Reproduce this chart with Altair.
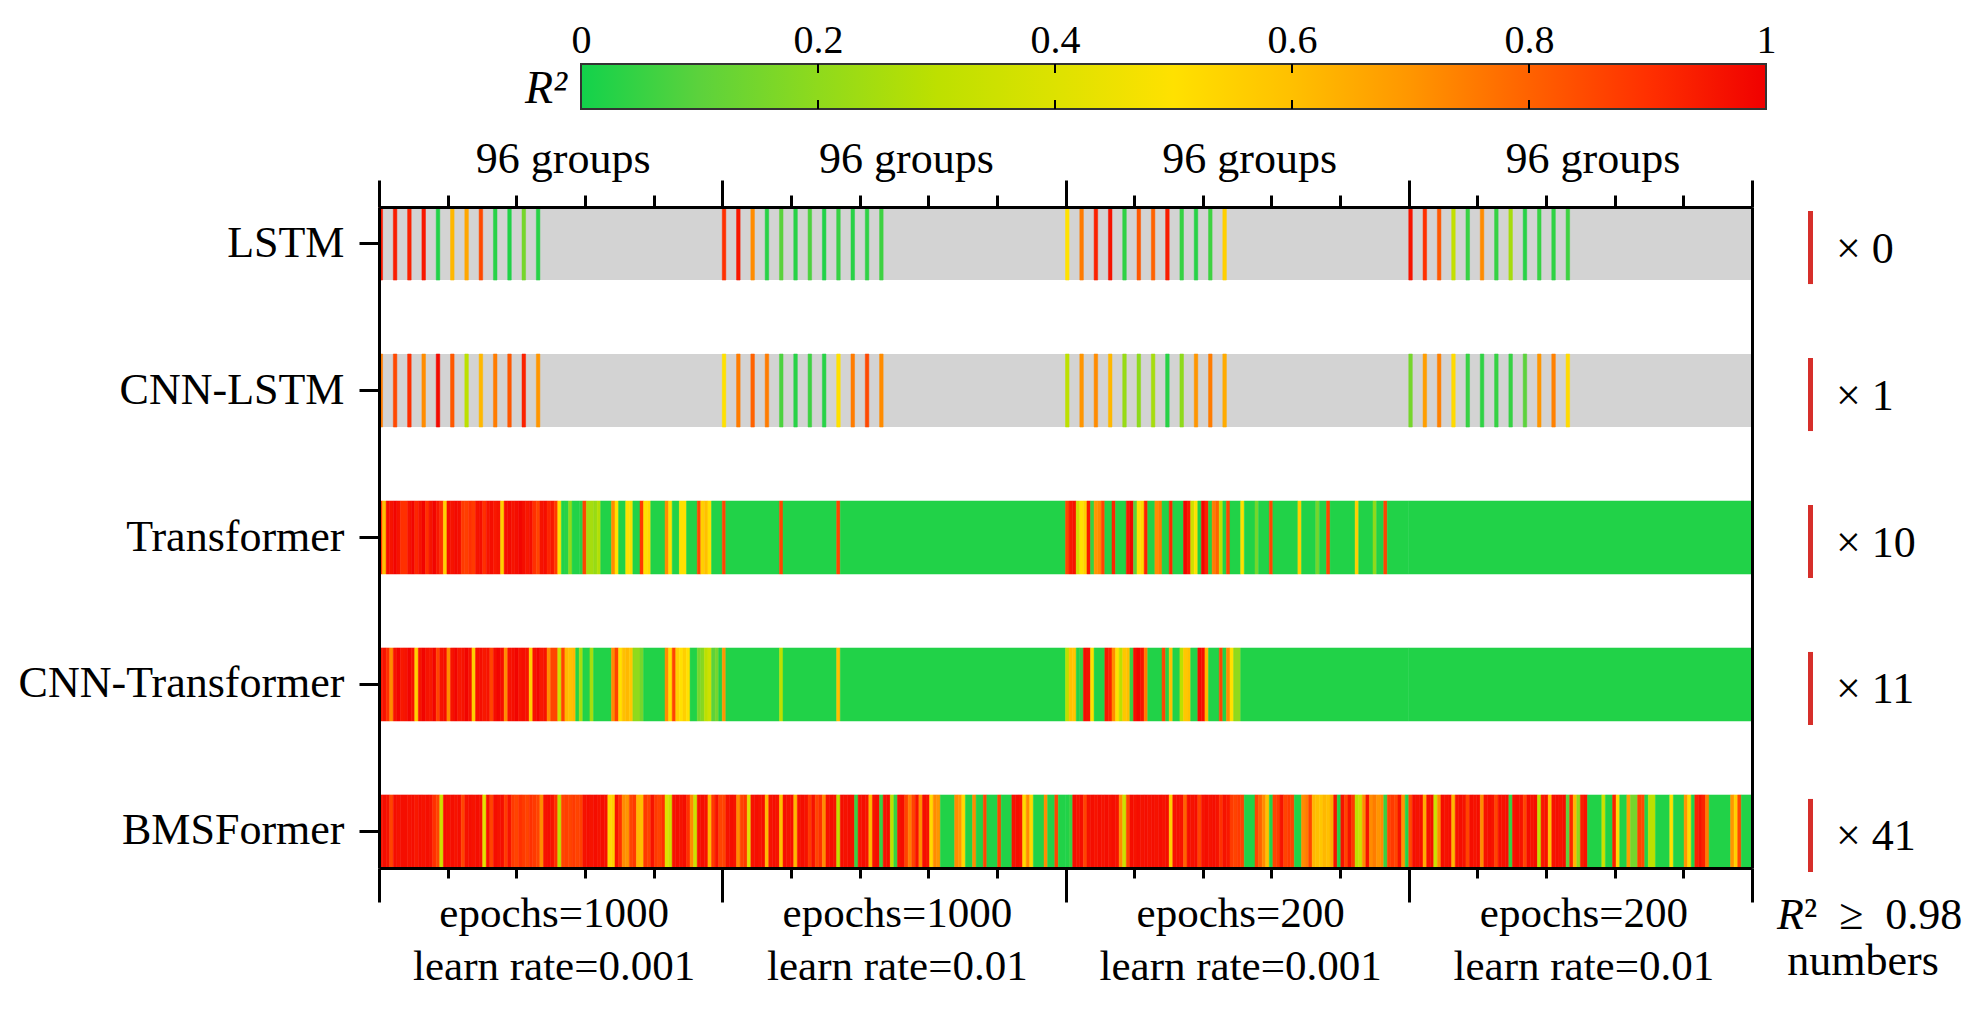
import json
import altair as alt
import pandas as pd

# ---------------- data ----------------
MODELS = ["LSTM", "CNN-LSTM", "Transformer", "CNN-Transformer", "BMSFormer"]
GROUPS_PER_SECTION = 96
SPARSE_GROUPS = [0, 4, 8, 12, 16, 20, 24, 28, 32, 36, 40, 44]

LSTM_1 = [0.95, 0.94, 0.93, 0.95, 0.02, 0.62, 0.66, 0.85, 0.03, 0.02, 0.15, 0.03]
LSTM_2 = [0.90, 0.95, 0.72, 0.03, 0.10, 0.03, 0.08, 0.02, 0.05, 0.03, 0.04, 0.06]
LSTM_3 = [0.50, 0.75, 0.93, 0.96, 0.04, 0.82, 0.80, 0.94, 0.05, 0.03, 0.06, 0.55]
LSTM_4 = [0.96, 0.90, 0.82, 0.32, 0.05, 0.72, 0.05, 0.25, 0.03, 0.05, 0.04, 0.06]

CNNLSTM_1 = [0.75, 0.85, 0.90, 0.72, 0.98, 0.82, 0.30, 0.62, 0.75, 0.82, 0.93, 0.70]
CNNLSTM_2 = [0.50, 0.75, 0.80, 0.75, 0.08, 0.03, 0.06, 0.03, 0.50, 0.75, 0.85, 0.72]
CNNLSTM_3 = [0.30, 0.70, 0.72, 0.62, 0.22, 0.20, 0.25, 0.03, 0.20, 0.70, 0.75, 0.65]
CNNLSTM_4 = [0.15, 0.68, 0.74, 0.52, 0.05, 0.04, 0.05, 0.05, 0.10, 0.70, 0.74, 0.52]

TRANS_1 = [0.88, 0.6, 0.97, 0.96, 0.99, 0.96, 0.9, 0.9, 0.96, 0.99, 0.92, 0.96, 0.99, 0.9, 0.96, 0.99,
           0.95, 0.9, 0.55, 0.97, 0.96, 0.98, 0.97, 0.88, 0.87, 0.9, 0.88, 0.96, 0.97, 0.9, 0.96, 0.97,
           0.95, 0.96, 0.55, 0.97, 0.98, 0.96, 0.97, 0.99, 0.97, 0.95, 0.97, 0.9, 0.86, 0.96, 0.97, 0.92,
           0.95, 0.88, 0.5, 0.02, 0.03, 0.2, 0.02, 0.02, 0.03, 0.86, 0.25, 0.25, 0.22, 0.28, 0.02, 0.02,
           0.02, 0.72, 0.5, 0.02, 0.02, 0.5, 0.48, 0.02, 0.02, 0.88, 0.5, 0.52, 0.02, 0.02, 0.02, 0.02,
           0.72, 0.5, 0.02, 0.02, 0.5, 0.5, 0.02, 0.02, 0.02, 0.86, 0.55, 0.6, 0.5, 0.02, 0.02, 0.02]
TRANS_2 = [0.86, 0.02, 0.02, 0.02, 0.02, 0.02, 0.02, 0.02, 0.02, 0.02, 0.02, 0.02, 0.02, 0.02, 0.02, 0.02,
           0.86, 0.02, 0.02, 0.02, 0.02, 0.02, 0.02, 0.02, 0.02, 0.02, 0.02, 0.02, 0.02, 0.02, 0.02, 0.02,
           0.86, 0.02, 0.02, 0.02, 0.02, 0.02, 0.02, 0.02, 0.02, 0.02, 0.02, 0.02, 0.02, 0.02, 0.02, 0.02,
           0.02, 0.02, 0.02, 0.02, 0.02, 0.02, 0.02, 0.02, 0.02, 0.02, 0.02, 0.02, 0.02, 0.02, 0.02, 0.02,
           0.02, 0.02, 0.02, 0.02, 0.02, 0.02, 0.02, 0.02, 0.02, 0.02, 0.02, 0.02, 0.02, 0.02, 0.02, 0.02,
           0.02, 0.02, 0.02, 0.02, 0.02, 0.02, 0.02, 0.02, 0.02, 0.02, 0.02, 0.02, 0.02, 0.02, 0.02, 0.02]
TRANS_3 = [0.86, 0.95, 0.96, 0.35, 0.5, 0.55, 0.95, 0.05, 0.7, 0.72, 0.86, 0.02, 0.02, 0.92, 0.02, 0.02,
           0.02, 0.95, 0.99, 0.1, 0.5, 0.52, 0.93, 0.02, 0.02, 0.72, 0.75, 0.02, 0.02, 0.92, 0.02, 0.02,
           0.02, 0.99, 0.95, 0.35, 0.5, 0.02, 0.99, 0.93, 0.02, 0.75, 0.8, 0.3, 0.02, 0.86, 0.02, 0.02,
           0.02, 0.5, 0.02, 0.02, 0.02, 0.15, 0.02, 0.02, 0.02, 0.86, 0.02, 0.02, 0.02, 0.02, 0.02, 0.02,
           0.02, 0.55, 0.02, 0.02, 0.02, 0.02, 0.15, 0.02, 0.02, 0.86, 0.02, 0.02, 0.02, 0.02, 0.02, 0.02,
           0.02, 0.55, 0.02, 0.02, 0.02, 0.02, 0.2, 0.02, 0.02, 0.86, 0.02, 0.02, 0.02, 0.02, 0.02, 0.02]
TRANS_4 = [0.02, 0.02, 0.02, 0.02, 0.02, 0.02, 0.02, 0.02, 0.02, 0.02, 0.02, 0.02, 0.02, 0.02, 0.02, 0.02,
           0.02, 0.02, 0.02, 0.02, 0.02, 0.02, 0.02, 0.02, 0.02, 0.02, 0.02, 0.02, 0.02, 0.02, 0.02, 0.02,
           0.02, 0.02, 0.02, 0.02, 0.02, 0.02, 0.02, 0.02, 0.02, 0.02, 0.02, 0.02, 0.02, 0.02, 0.02, 0.02,
           0.02, 0.02, 0.02, 0.02, 0.02, 0.02, 0.02, 0.02, 0.02, 0.02, 0.02, 0.02, 0.02, 0.02, 0.02, 0.02,
           0.02, 0.02, 0.02, 0.02, 0.02, 0.02, 0.02, 0.02, 0.02, 0.02, 0.02, 0.02, 0.02, 0.02, 0.02, 0.02,
           0.02, 0.02, 0.02, 0.02, 0.02, 0.02, 0.02, 0.02, 0.02, 0.02, 0.02, 0.02, 0.02, 0.02, 0.02, 0.02]

CNNTRANS_1 = [0.95, 0.96, 0.9, 0.72, 0.96, 0.99, 0.95, 0.96, 0.99, 0.96, 0.55, 0.96, 0.99, 0.96, 0.95, 0.99,
              0.86, 0.96, 0.97, 0.72, 0.96, 0.99, 0.95, 0.96, 0.99, 0.96, 0.55, 0.96, 0.97, 0.95, 0.96, 0.86,
              0.97, 0.99, 0.97, 0.72, 0.96, 0.97, 0.99, 0.96, 0.97, 0.96, 0.55, 0.96, 0.99, 0.95, 0.96, 0.72,
              0.86, 0.86, 0.35, 0.86, 0.62, 0.6, 0.62, 0.02, 0.25, 0.02, 0.02, 0.25, 0.02, 0.02, 0.02, 0.02,
              0.02, 0.72, 0.86, 0.5, 0.6, 0.62, 0.58, 0.2, 0.2, 0.15, 0.02, 0.02, 0.02, 0.02, 0.02, 0.02,
              0.72, 0.5, 0.86, 0.55, 0.5, 0.55, 0.5, 0.02, 0.02, 0.15, 0.18, 0.3, 0.35, 0.1, 0.15, 0.02]
CNNTRANS_2 = [0.7, 0.02, 0.02, 0.02, 0.02, 0.02, 0.02, 0.02, 0.02, 0.02, 0.02, 0.02, 0.02, 0.02, 0.02, 0.02,
              0.3, 0.02, 0.02, 0.02, 0.02, 0.02, 0.02, 0.02, 0.02, 0.02, 0.02, 0.02, 0.02, 0.02, 0.02, 0.02,
              0.6, 0.02, 0.02, 0.02, 0.02, 0.02, 0.02, 0.02, 0.02, 0.02, 0.02, 0.02, 0.02, 0.02, 0.02, 0.02,
              0.02, 0.02, 0.02, 0.02, 0.02, 0.02, 0.02, 0.02, 0.02, 0.02, 0.02, 0.02, 0.02, 0.02, 0.02, 0.02,
              0.02, 0.02, 0.02, 0.02, 0.02, 0.02, 0.02, 0.02, 0.02, 0.02, 0.02, 0.02, 0.02, 0.02, 0.02, 0.02,
              0.02, 0.02, 0.02, 0.02, 0.02, 0.02, 0.02, 0.02, 0.02, 0.02, 0.02, 0.02, 0.02, 0.02, 0.02, 0.02]
CNNTRANS_3 = [0.3, 0.6, 0.58, 0.02, 0.05, 0.97, 0.96, 0.5, 0.02, 0.02, 0.02, 0.95, 0.93, 0.72, 0.5, 0.3,
              0.58, 0.6, 0.05, 0.97, 0.99, 0.96, 0.75, 0.02, 0.02, 0.02, 0.02, 0.86, 0.02, 0.6, 0.02, 0.02,
              0.3, 0.58, 0.6, 0.02, 0.02, 0.98, 0.97, 0.62, 0.02, 0.02, 0.02, 0.86, 0.02, 0.72, 0.5, 0.2,
              0.2, 0.02, 0.02, 0.02, 0.02, 0.02, 0.02, 0.02, 0.02, 0.02, 0.02, 0.02, 0.02, 0.02, 0.02, 0.02,
              0.02, 0.02, 0.02, 0.02, 0.02, 0.02, 0.02, 0.02, 0.02, 0.02, 0.02, 0.02, 0.02, 0.02, 0.02, 0.02,
              0.02, 0.02, 0.02, 0.02, 0.02, 0.02, 0.02, 0.02, 0.02, 0.02, 0.02, 0.02, 0.02, 0.02, 0.02, 0.02]
CNNTRANS_4 = [0.02, 0.02, 0.02, 0.02, 0.02, 0.02, 0.02, 0.02, 0.02, 0.02, 0.02, 0.02, 0.02, 0.02, 0.02, 0.02,
              0.02, 0.02, 0.02, 0.02, 0.02, 0.02, 0.02, 0.02, 0.02, 0.02, 0.02, 0.02, 0.02, 0.02, 0.02, 0.02,
              0.02, 0.02, 0.02, 0.02, 0.02, 0.02, 0.02, 0.02, 0.02, 0.02, 0.02, 0.02, 0.02, 0.02, 0.02, 0.02,
              0.02, 0.02, 0.02, 0.02, 0.02, 0.02, 0.02, 0.02, 0.02, 0.02, 0.02, 0.02, 0.02, 0.02, 0.02, 0.02,
              0.02, 0.02, 0.02, 0.02, 0.02, 0.02, 0.02, 0.02, 0.02, 0.02, 0.02, 0.02, 0.02, 0.02, 0.02, 0.02,
              0.02, 0.02, 0.02, 0.02, 0.02, 0.02, 0.02, 0.02, 0.02, 0.02, 0.02, 0.02, 0.02, 0.02, 0.02, 0.02]

BMS_1 = [0.96, 0.97, 0.96, 0.86, 0.97, 0.96, 0.97, 0.97, 0.96, 0.97, 0.95, 0.97, 0.96, 0.97, 0.96, 0.9,
         0.86, 0.35, 0.97, 0.96, 0.97, 0.96, 0.97, 0.86, 0.96, 0.97, 0.96, 0.97, 0.96, 0.42, 0.96, 0.86,
         0.97, 0.96, 0.97, 0.88, 0.96, 0.88, 0.86, 0.9, 0.88, 0.86, 0.9, 0.88, 0.86, 0.72, 0.96, 0.97,
         0.96, 0.9, 0.3, 0.86, 0.87, 0.86, 0.88, 0.86, 0.87, 0.96, 0.97, 0.96, 0.97, 0.96, 0.97, 0.96,
         0.52, 0.55, 0.96, 0.9, 0.72, 0.7, 0.86, 0.88, 0.62, 0.6, 0.88, 0.86, 0.96, 0.88, 0.86, 0.9,
         0.4, 0.35, 0.96, 0.97, 0.96, 0.97, 0.9, 0.72, 0.35, 0.96, 0.97, 0.96, 0.62, 0.88, 0.96, 0.86]
BMS_2 = [0.86, 0.96, 0.97, 0.96, 0.72, 0.86, 0.88, 0.4, 0.96, 0.97, 0.96, 0.97, 0.62, 0.96, 0.97, 0.96,
         0.6, 0.97, 0.96, 0.97, 0.62, 0.96, 0.97, 0.96, 0.88, 0.96, 0.86, 0.9, 0.72, 0.96, 0.97, 0.96,
         0.3, 0.97, 0.96, 0.97, 0.96, 0.05, 0.96, 0.97, 0.96, 0.62, 0.96, 0.97, 0.05, 0.96, 0.97, 0.3,
         0.05, 0.96, 0.97, 0.86, 0.75, 0.86, 0.96, 0.72, 0.97, 0.96, 0.52, 0.72, 0.7, 0.02, 0.02, 0.02,
         0.02, 0.72, 0.7, 0.52, 0.02, 0.02, 0.72, 0.02, 0.02, 0.86, 0.02, 0.02, 0.02, 0.86, 0.02, 0.02,
         0.02, 0.96, 0.97, 0.96, 0.52, 0.72, 0.52, 0.02, 0.02, 0.02, 0.72, 0.02, 0.02, 0.86, 0.02, 0.02]
BMS_3 = [0.02, 0.05, 0.97, 0.96, 0.97, 0.86, 0.96, 0.97, 0.96, 0.97, 0.96, 0.97, 0.96, 0.97, 0.96, 0.72,
         0.35, 0.86, 0.97, 0.96, 0.97, 0.96, 0.97, 0.96, 0.97, 0.96, 0.97, 0.96, 0.97, 0.55, 0.96, 0.97,
         0.96, 0.8, 0.97, 0.96, 0.97, 0.86, 0.96, 0.97, 0.96, 0.97, 0.96, 0.9, 0.96, 0.95, 0.88, 0.86,
         0.88, 0.86, 0.02, 0.02, 0.02, 0.86, 0.8, 0.72, 0.6, 0.02, 0.86, 0.88, 0.96, 0.86, 0.88, 0.86,
         0.02, 0.02, 0.72, 0.75, 0.86, 0.62, 0.6, 0.58, 0.62, 0.6, 0.65, 0.96, 0.02, 0.96, 0.86, 0.96,
         0.88, 0.3, 0.35, 0.72, 0.96, 0.72, 0.75, 0.7, 0.72, 0.05, 0.86, 0.88, 0.86, 0.96, 0.7, 0.02]
BMS_4 = [0.85, 0.97, 0.96, 0.97, 0.65, 0.96, 0.97, 0.35, 0.72, 0.97, 0.96, 0.97, 0.62, 0.96, 0.97, 0.96,
         0.86, 0.97, 0.96, 0.97, 0.72, 0.96, 0.97, 0.96, 0.86, 0.97, 0.96, 0.97, 0.05, 0.96, 0.97, 0.96,
         0.86, 0.97, 0.96, 0.97, 0.3, 0.95, 0.96, 0.6, 0.96, 0.97, 0.96, 0.97, 0.1, 0.92, 0.62, 0.2,
         0.94, 0.96, 0.02, 0.02, 0.02, 0.02, 0.35, 0.02, 0.02, 0.93, 0.52, 0.02, 0.02, 0.68, 0.15, 0.15,
         0.86, 0.85, 0.02, 0.3, 0.3, 0.02, 0.02, 0.02, 0.02, 0.5, 0.02, 0.02, 0.02, 0.7, 0.52, 0.02,
         0.93, 0.96, 0.93, 0.75, 0.02, 0.02, 0.02, 0.02, 0.02, 0.02, 0.7, 0.55, 0.85, 0.02, 0.02, 0.02]

SPARSE = {"LSTM": [LSTM_1, LSTM_2, LSTM_3, LSTM_4],
          "CNN-LSTM": [CNNLSTM_1, CNNLSTM_2, CNNLSTM_3, CNNLSTM_4]}
DENSE = {"Transformer": [TRANS_1, TRANS_2, TRANS_3, TRANS_4],
         "CNN-Transformer": [CNNTRANS_1, CNNTRANS_2, CNNTRANS_3, CNNTRANS_4],
         "BMSFormer": [BMS_1, BMS_2, BMS_3, BMS_4]}

COUNT_LABELS = ["× 0", "× 1", "× 10", "× 11", "× 41"]
TOP_LABELS = ["96 groups", "96 groups", "96 groups", "96 groups"]
EPOCH_LABELS = ["epochs=1000", "epochs=1000", "epochs=200", "epochs=200"]
LR_LABELS = ["learn rate=0.001", "learn rate=0.01", "learn rate=0.001", "learn rate=0.01"]
R2_TITLE = ["R", "²\u2002≥\u20020.98"]
NUMBERS_TITLE = "numbers"

MAJOR_TICKS = [0, 96, 192, 288, 384]
MINOR_TICKS = [19.2, 38.4, 57.6, 76.8, 115.2, 134.4, 153.6, 172.8,
               211.2, 230.4, 249.6, 268.8, 307.2, 326.4, 345.6, 364.8]
LABEL_POS = [48, 144, 240, 336]

CB_TICKS = [0, 0.2, 0.4, 0.6, 0.8, 1]
CB_INNER_TICKS = [0.2, 0.4, 0.6, 0.8]
STOPS = [0.0, 0.1, 0.2, 0.3, 0.4, 0.5, 0.6, 0.7, 0.8, 0.9, 1.0]
COLORS = ["#12d24b", "#5cd23c", "#8fda1c", "#bde000", "#dde200", "#ffe100",
          "#ffc000", "#ff9600", "#ff6200", "#ff3000", "#f00000"]

# ---------------- tables ----------------
rec = []
for m, secs in SPARSE.items():
    for s, vals in enumerate(secs):
        assert len(vals) == len(SPARSE_GROUPS)
        for gi, v in zip(SPARSE_GROUPS, vals):
            g = s * GROUPS_PER_SECTION + gi
            rec.append({"model": m, "g": g, "g2": g + 1, "r2": v})
for m, secs in DENSE.items():
    for s, vals in enumerate(secs):
        assert len(vals) == GROUPS_PER_SECTION, (m, s, len(vals))
        # consecutive groups with the same value are drawn as one cell (no seams)
        start = 0
        for gi in range(1, GROUPS_PER_SECTION + 1):
            if gi == GROUPS_PER_SECTION or vals[gi] != vals[start]:
                rec.append({"model": m, "g": s * GROUPS_PER_SECTION + start,
                            "g2": s * GROUPS_PER_SECTION + gi, "r2": vals[start]})
                start = gi
cells_df = pd.DataFrame(rec)
bg_df = pd.DataFrame({"model": list(SPARSE.keys()), "a": [0, 0], "b": [384, 384]})
tick_df = pd.DataFrame({"v": MAJOR_TICKS})
cnt_df = pd.DataFrame({"model": MODELS, "label": COUNT_LABELS})

FONT = "Liberation Serif"
W, H = 1373, 661           # plot area
CB_TOP, CB_H = -143, 45    # colour bar placed above the plot area
RX = W                     # right annotation column starts at plot's right edge

xs = alt.Scale(domain=[0, 384], nice=False, zero=False)
ys = alt.Scale(domain=MODELS, paddingInner=0.503, paddingOuter=0)
cs = alt.Scale(domain=STOPS, range=COLORS, interpolate="rgb", clamp=True)
cbx = alt.Scale(domain=[0, 1], range=[202, 1387], nice=False, zero=False)


def ax(**kw):
    base = dict(title=None, grid=False, labels=False, ticks=False, domain=False,
                zindex=1, tickColor="black", domainColor="black", labelColor="black",
                labelFont=FONT, labelLimit=2000)
    base.update(kw)
    return alt.Axis(**base)


bg = alt.Chart(bg_df).mark_rect(color="#d3d3d3").encode(
    x=alt.X("a:Q", scale=xs, axis=ax(orient="bottom", values=MAJOR_TICKS, ticks=True,
                                     tickSize=34, tickWidth=3, domain=True, domainWidth=3)),
    x2="b:Q",
    y=alt.Y("model:N", scale=ys, axis=None),
)

cells = alt.Chart(cells_df).mark_rect(strokeWidth=0.5).encode(
    x=alt.X("g:Q", scale=xs, axis=ax(orient="top", values=MAJOR_TICKS, ticks=True,
                                     tickSize=27, tickWidth=3, domain=True, domainWidth=3)),
    x2="g2:Q",
    y=alt.Y("model:N", scale=ys,
            axis=ax(orient="left", labels=True, ticks=True, tickSize=20, tickWidth=3,
                    labelFontSize=44, labelPadding=15, domain=True, domainWidth=3)),
    color=alt.Color("r2:Q", scale=cs, legend=None),
    stroke=alt.Stroke("r2:Q", scale=cs, legend=None),
)

minor_b = alt.Chart(tick_df).mark_point(opacity=0).encode(
    x=alt.X("v:Q", scale=xs, axis=ax(orient="bottom", values=MINOR_TICKS, ticks=True,
                                     tickSize=10, tickWidth=3)))
minor_t = alt.Chart(tick_df).mark_point(opacity=0).encode(
    x=alt.X("v:Q", scale=xs, axis=ax(orient="top", values=MINOR_TICKS, ticks=True,
                                     tickSize=12, tickWidth=3)))

bottom_expr = json.dumps([[e, l] for e, l in zip(EPOCH_LABELS, LR_LABELS)]) + "[floor(datum.value / 96)]"
top_expr = json.dumps(TOP_LABELS) + "[floor(datum.value / 96)]"

lab_b = alt.Chart(tick_df).mark_point(opacity=0).encode(
    x=alt.X("v:Q", scale=xs, axis=ax(orient="bottom", values=LABEL_POS, labels=True,
                                     labelExpr=bottom_expr, labelFontSize=43,
                                     labelLineHeight=53, labelBaseline="alphabetic",
                                     labelPadding=58, labelOffset=3, labelFlush=False,
                                     labelOverlap=False)))
lab_t = alt.Chart(tick_df).mark_point(opacity=0).encode(
    x=alt.X("v:Q", scale=xs, axis=ax(orient="top", values=LABEL_POS, labels=True,
                                     labelExpr=top_expr, labelFontSize=44,
                                     labelBaseline="alphabetic", labelPadding=35,
                                     labelOffset=12, labelFlush=False, labelOverlap=False)))
frame_r = alt.Chart(cnt_df).mark_point(opacity=0).encode(
    y=alt.Y("model:N", scale=ys, axis=ax(orient="right", domain=True, domainWidth=3)))

# ---------------- colour bar (above the plot) ----------------
grad = alt.Gradient(gradient="linear", x1=0, x2=1, y1=0, y2=0,
                    stops=[alt.GradientStop(offset=o, color=c) for o, c in zip(STOPS, COLORS)])
cb_df = pd.DataFrame({"a": [0.0], "b": [1.0]})
cb_bar = alt.Chart(cb_df).mark_rect(fill=grad, stroke="#333333", strokeWidth=2).encode(
    x=alt.X("a:Q", scale=cbx, axis=ax(orient="top", values=CB_TICKS, labels=True, format="~g",
                                      labelFontSize=40, labelPadding=4, labelFlush=False,
                                      labelOverlap=False, offset=-CB_TOP)),
    x2="b:Q", y=alt.value(CB_TOP), y2=alt.value(CB_TOP + CB_H))
inner_df = pd.DataFrame({"v": CB_INNER_TICKS})
cb_t1 = alt.Chart(inner_df).mark_rule(color="black", strokeWidth=2).encode(
    x=alt.X("v:Q", scale=cbx, axis=None), y=alt.value(CB_TOP), y2=alt.value(CB_TOP + 9))
cb_t2 = alt.Chart(inner_df).mark_rule(color="black", strokeWidth=2).encode(
    x=alt.X("v:Q", scale=cbx, axis=None), y=alt.value(CB_TOP + CB_H - 9),
    y2=alt.value(CB_TOP + CB_H))
cb_title = alt.Chart(pd.DataFrame({"v": [0.0], "t": ["R²"]})).mark_text(
    align="right", baseline="middle", dx=-14, dy=2, fontSize=46, fontStyle="italic",
    font=FONT, color="black").encode(
    x=alt.X("v:Q", scale=cbx, axis=None), y=alt.value(CB_TOP + CB_H / 2), text="t:N")

# ---------------- right annotation ----------------
r_bars = alt.Chart(cnt_df).mark_rect(color="#d62f2a", yOffset=4).encode(
    x=alt.value(RX + 56), x2=alt.value(RX + 61), y=alt.Y("model:N", scale=ys, axis=None))
r_text = alt.Chart(cnt_df).mark_text(align="left", baseline="middle", dy=6, fontSize=44,
                                     font=FONT, color="black").encode(
    x=alt.value(RX + 84), y=alt.Y("model:N", scale=ys, axis=None), text="label:N")
r_t1 = alt.Chart(pd.DataFrame({"t": [R2_TITLE[0]]})).mark_text(
    align="right", baseline="alphabetic", fontSize=44, fontStyle="italic", font=FONT,
    color="black").encode(x=alt.value(RX + 52), y=alt.value(722), text="t:N")
r_t2 = alt.Chart(pd.DataFrame({"t": [R2_TITLE[1]]})).mark_text(
    align="left", baseline="alphabetic", fontSize=44, font=FONT, color="black").encode(
    x=alt.value(RX + 52), y=alt.value(722), text="t:N")
r_t3 = alt.Chart(pd.DataFrame({"t": [NUMBERS_TITLE]})).mark_text(
    align="center", baseline="alphabetic", fontSize=44, font=FONT, color="black").encode(
    x=alt.value(RX + 111), y=alt.value(768), text="t:N")

chart = alt.layer(
    bg, cells, minor_b, minor_t, lab_b, lab_t, frame_r,
    cb_bar, cb_t1, cb_t2, cb_title,
    r_bars, r_text, r_t1, r_t2, r_t3,
).resolve_scale(x="independent").resolve_axis(x="independent", y="independent").properties(
    width=W, height=H,
    padding={"left": 10, "top": 12, "right": 5, "bottom": 5},
).configure_view(stroke=None).configure_axis(grid=False)

chart.save("out.html", embed_options={"renderer": "svg", "actions": False})
